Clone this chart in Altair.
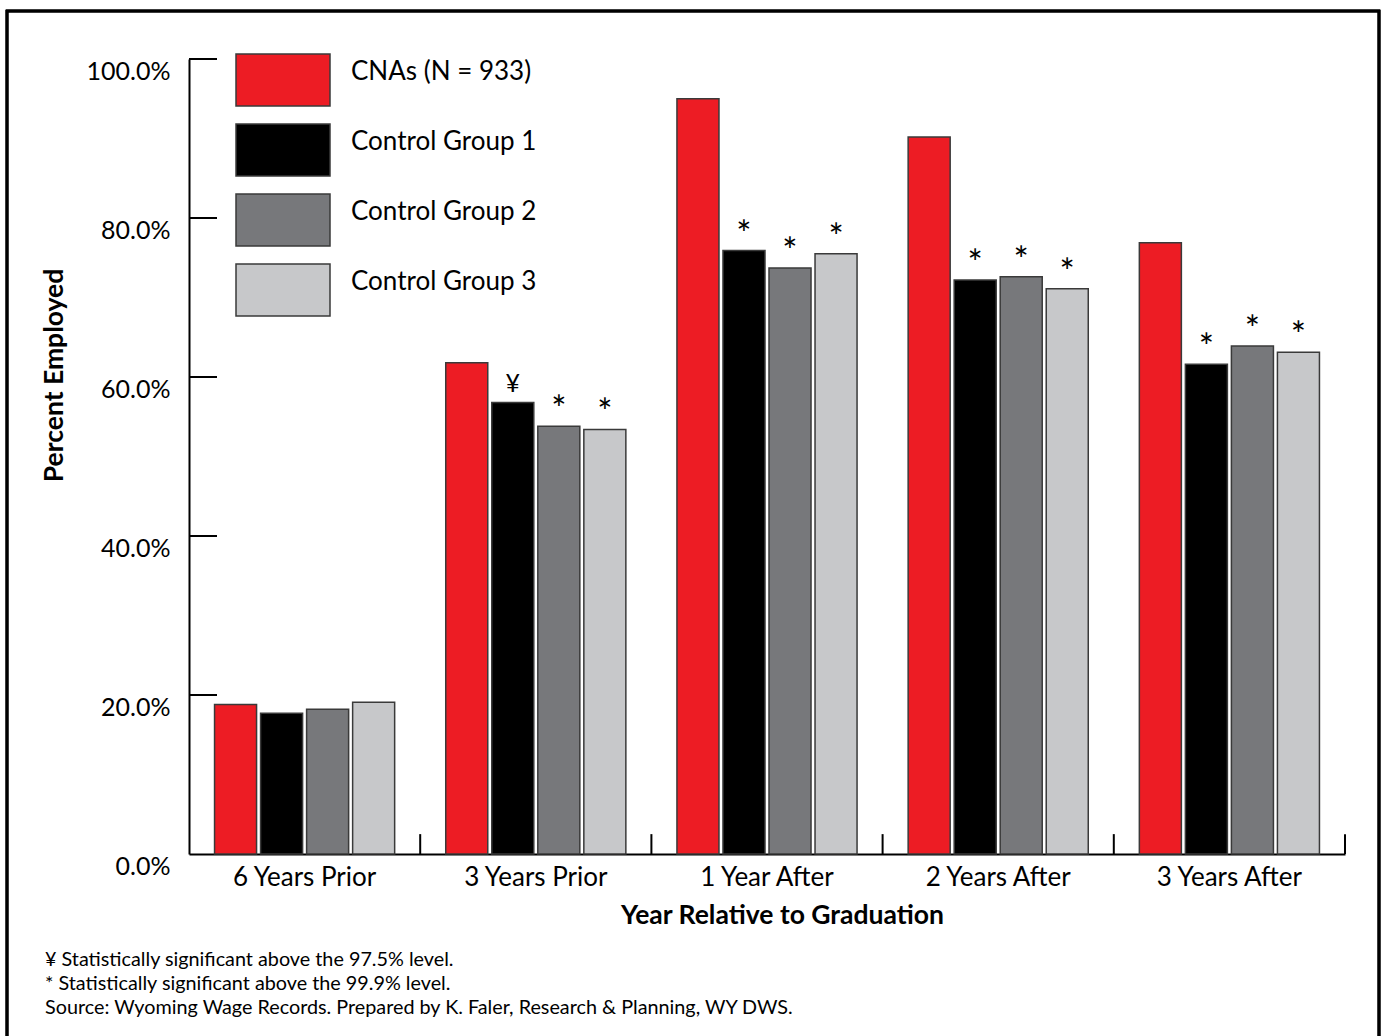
import altair as alt
import pandas as pd

# Employment rates by year relative to graduation
periods = ["6 Years Prior", "3 Years Prior", "1 Year After", "2 Years After", "3 Years After"]
groups = ["CNAs (N = 933)", "Control Group 1", "Control Group 2", "Control Group 3"]
colors = ["#ED1C24", "#000000", "#77787B", "#C7C8CA"]

cnas = [18.8, 61.8, 95.0, 90.2, 76.9]
control_1 = [17.7, 56.8, 75.9, 72.2, 61.6]
control_2 = [18.2, 53.8, 73.7, 72.6, 63.9]
control_3 = [19.1, 53.4, 75.5, 71.1, 63.1]

# significance markers per bar ("" = not significant)
marks_cnas = ["", "", "", "", ""]
marks_1 = ["", "¥", "*", "*", "*"]
marks_2 = ["", "*", "*", "*", "*"]
marks_3 = ["", "*", "*", "*", "*"]

y_ticks = [20, 40, 60, 80, 100]

footnotes = [
    "¥ Statistically significant above the 97.5% level.",
    "* Statistically significant above the 99.9% level.",
    "Source: Wyoming Wage Records. Prepared by K. Faler, Research & Planning, WY DWS.",
]

rows = []
for g, vals, sig in zip(groups, [cnas, control_1, control_2, control_3],
                        [marks_cnas, marks_1, marks_2, marks_3]):
    for p, v, s in zip(periods, vals, sig):
        rows.append({"period": p, "group": g, "pct": v, "sig": s})
df = pd.DataFrame(rows)
ticks_df = pd.DataFrame({"pct": y_ticks})
bounds_df = pd.DataFrame({"period": periods})

FONT = "Lato"
W, H = 1156, 795

x_enc = alt.X("period:N", sort=periods, scale=alt.Scale(paddingInner=0, paddingOuter=0),
              axis=alt.Axis(title="Year Relative to Graduation", labelAngle=0, ticks=False,
                            labelFontSize=26, labelFont=FONT, labelPadding=10,
                            labelBaseline="top", domainColor="black", domainWidth=2,
                            titleFont=FONT, titleFontSize=26.5, titleFontWeight="bold",
                            titleX=593, titleY=61, titleBaseline="middle"))
xo_enc = alt.XOffset("group:N", sort=groups,
                     scale=alt.Scale(paddingInner=0.087, paddingOuter=0.555))
y_scale = alt.Scale(domain=[0, 100], nice=False)

# wide rectangular legend swatch (path in symbol units, scaled by sqrt(size)/2)
swatch = "M-2,-1.106H2V1.106H-2Z"

bars = alt.Chart(df).mark_bar(stroke="#3a3a3a", strokeWidth=1.5).encode(
    x=x_enc,
    xOffset=xo_enc,
    y=alt.Y("pct:Q", scale=y_scale,
            axis=alt.Axis(title="Percent Employed", values=[0, 20, 40, 60, 80, 100],
                          grid=False, ticks=False, labelFontSize=25, labelFont=FONT,
                          labelPadding=19, labelOffset=12,
                          labelExpr="format(datum.value, '.1f') + '%'",
                          domainColor="black", domainWidth=2,
                          titleFont=FONT, titleFontSize=26.5, titleFontWeight="bold",
                          titleX=-135, titleY=316, titleBaseline="middle")),
    fill=alt.Fill("group:N", sort=groups,
                  scale=alt.Scale(domain=groups, range=colors),
                  legend=alt.Legend(title=None, orient="none", legendX=69.5, legendY=-3.5,
                                    symbolType=swatch, symbolSize=2209,
                                    symbolStrokeColor="#3a3a3a", symbolStrokeWidth=1.5,
                                    labelFont=FONT, labelFontSize=26, labelColor="black",
                                    labelBaseline="alphabetic",
                                    labelOffset=43.5, rowPadding=11, padding=0,
                                    labelLimit=400)),
)

# significance markers: asterisks and yen sign
stars = alt.Chart(df).transform_filter(alt.datum.sig == "*").mark_text(
    font=FONT, fontSize=36, baseline="alphabetic", dy=-4, color="black").encode(
    x=alt.X("period:N", sort=periods),
    xOffset=xo_enc,
    y=alt.Y("pct:Q", scale=y_scale),
    text="sig:N",
)
yen = alt.Chart(df).transform_filter(alt.datum.sig == "¥").mark_text(
    font=FONT, fontSize=25, baseline="alphabetic", dy=-10, color="black").encode(
    x=alt.X("period:N", sort=periods),
    xOffset=xo_enc,
    y=alt.Y("pct:Q", scale=y_scale),
    text="sig:N",
)

# inward ticks on the value axis
y_tick_marks = alt.Chart(ticks_df).mark_rule(color="black", strokeWidth=2).encode(
    y=alt.Y("pct:Q", scale=y_scale),
    x=alt.value(0),
    x2=alt.value(28),
)

# category separators on the baseline
x_tick_marks = alt.Chart(bounds_df).mark_rule(color="black", strokeWidth=2).encode(
    x=alt.X("period:N", sort=periods, bandPosition=1),
    y=alt.datum(0),
    y2=alt.datum(2.5),
)

# outer frame
frame = alt.Chart(bounds_df).mark_rect(fill="transparent", stroke="black",
                                       strokeWidth=2.5).encode(
    x=alt.value(-182),
    x2=alt.value(1190),
    y=alt.value(-48),
    y2=alt.value(990),
)

chart = alt.layer(frame, bars, stars, yen, y_tick_marks, x_tick_marks).properties(
    width=W,
    height=H,
    autosize=alt.AutoSizeParams(type="none"),
    padding={"left": 189, "top": 59, "right": 40, "bottom": 182},
    title=alt.TitleParams(text=footnotes, orient="bottom", anchor="start", frame="group",
                          dx=-144, offset=-100, font=FONT, fontSize=19.8,
                          fontWeight="normal", lineHeight=24, color="black",
                          baseline="top"),
).configure(background="white", view=alt.ViewConfig(stroke="transparent"))

chart.save("out.html", embed_options={"renderer": "svg", "actions": False})
